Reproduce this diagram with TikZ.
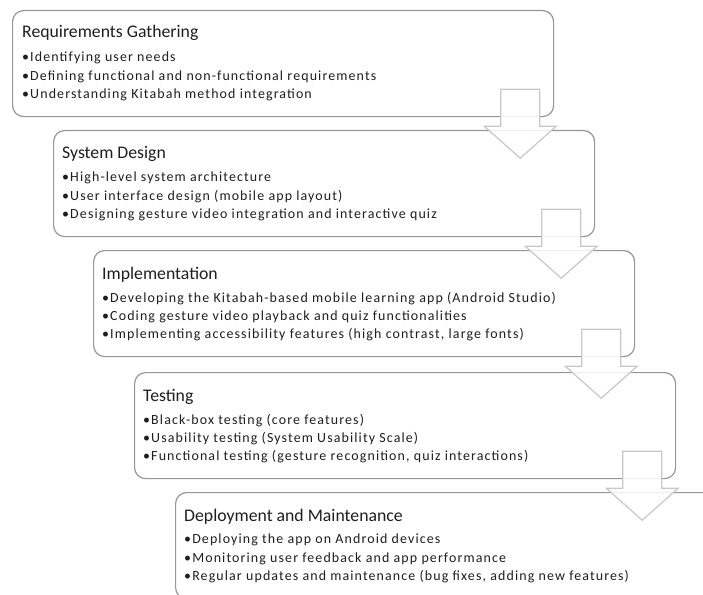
\documentclass[tikz,border=0pt]{standalone}
\usepackage{fontspec}
\setmainfont{Carlito}
\usetikzlibrary{calc}

\definecolor{boxgray}{RGB}{150,150,150}
\definecolor{arrowgray}{RGB}{200,200,200}
\definecolor{textgray}{RGB}{30,30,30}

\tikzset{
    stagebox/.style={draw=boxgray, line width=1.2bp, rounded corners=11bp,
        minimum width=541bp, minimum height=106bp, inner sep=0pt, anchor=north west},
    stagetitle/.style={anchor=base west, inner sep=0pt, text=textgray,
        font=\fontsize{17.8}{20}\selectfont},
    stagelist/.style={anchor=north west, inner sep=0pt, align=left, text=textgray,
        font=\fontsize{14}{18.2}\selectfont\addfontfeature{LetterSpace=8}},
    flowarrow/.style={draw=arrowgray, line width=1.2bp, fill=white,
        fill opacity=0.85, line join=miter}
}

\begin{document}
\begin{tikzpicture}[
        x=1bp,
        y=-1bp
    ]

    \clip (0,0) rectangle (703,595);

    % Boxes
    \node[stagebox] (req) at (12,10) {};
    \node[stagebox] (design) at (53,130) {};
    \node[stagebox] (impl) at (93,250) {};
    \node[stagebox] (test) at (134,372) {};
    \node[stagebox] (deploy) at (175,492) {};

    % Requirements Gathering
    \node[stagetitle] (reqtitle) at ($(req.north west)+(10,28)$) {Requirements Gathering};
    \node[stagelist] (reqlist) at ($(req.north west)+(10,42)$)
        {•Identifying user needs\\
         •Defining functional and non-functional requirements\\
         •Understanding Kitabah method integration};

    % System Design
    \node[stagetitle] (designtitle) at ($(design.north west)+(9,29)$) {System Design};
    \node[stagelist] (designlist) at ($(design.north west)+(9,42)$)
        {•High-level system architecture\\
         •User interface design (mobile app layout)\\
         •Designing gesture video integration and interactive quiz};

    % Implementation
    \node[stagetitle] (impltitle) at ($(impl.north west)+(9,29)$) {Implementation};
    \node[stagelist] (impllist) at ($(impl.north west)+(9,42)$)
        {•Developing the Kitabah-based mobile learning app (Android Studio)\\
         •Coding gesture video playback and quiz functionalities\\
         •Implementing accessibility features (high contrast, large fonts)};

    % Testing
    \node[stagetitle] (testtitle) at ($(test.north west)+(9,29)$) {Testing};
    \node[stagelist] (testlist) at ($(test.north west)+(9,42)$)
        {•Black-box testing (core features)\\
         •Usability testing (System Usability Scale)\\
         •Functional testing (gesture recognition, quiz interactions)};

    % Deployment and Maintenance
    \node[stagetitle] (deploytitle) at ($(deploy.north west)+(9,29)$) {Deployment and Maintenance};
    \node[stagelist] (deploylist) at ($(deploy.north west)+(9,42)$)
        {•Deploying the app on Android devices\\
         •Monitoring user feedback and app performance\\
         •Regular updates and maintenance (bug fixes, adding new features)};

    % Block arrows
    \foreach \b in {req,design,impl,test}
        \draw[flowarrow] ($(\b.south east)+(-53.5,-28)$) -- ++(39,0) -- ++(0,37)
            -- ++(16.5,0) -- ++(-36,32) -- ++(-36,-32) -- ++(16.5,0) -- cycle;

\end{tikzpicture}
\end{document}
